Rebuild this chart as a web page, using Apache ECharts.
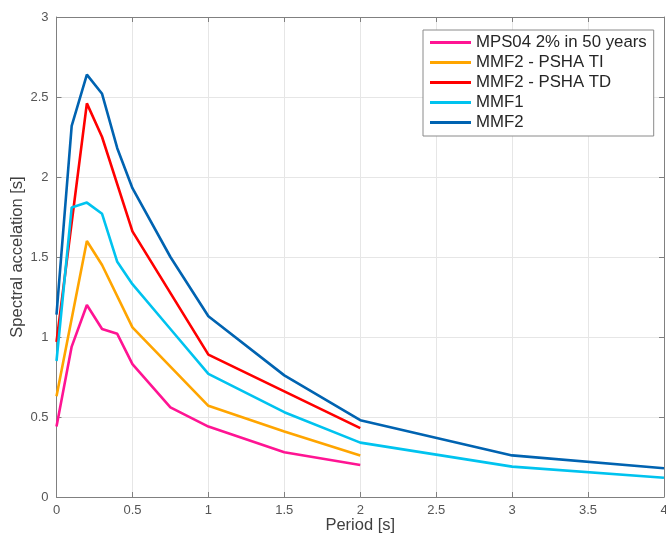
<!DOCTYPE html>
<html><head><meta charset="utf-8">
<script src="https://cdn.jsdelivr.net/npm/echarts@6/dist/echarts.min.js"></script>
<style>html,body{margin:0;padding:0;background:#fff}#c{width:666px;height:541px}</style>
</head><body><div id="c"></div>
<script>
const seriesNames = ['MPS04 2% in 50 years','MMF2 - PSHA TI','MMF2 - PSHA TD','MMF1','MMF2'];
const mps04X = [0,0.1,0.2,0.3,0.4,0.5,0.75,1,1.5,2];
const mps04Y = [0.44,0.94,1.20,1.05,1.02,0.83,0.56,0.44,0.28,0.20];
const psha_tiX = [0,0.2,0.3,0.5,1,1.5,2];
const psha_tiY = [0.63,1.60,1.45,1.06,0.57,0.41,0.26];
const psha_tdX = [0,0.2,0.3,0.5,1,1.5,2];
const psha_tdY = [0.97,2.46,2.25,1.66,0.89,0.66,0.43];
const mmf1X = [0,0.1,0.2,0.3,0.4,0.5,0.75,1,1.5,2,3,4];
const mmf1Y = [0.85,1.81,1.84,1.77,1.47,1.33,1.05,0.77,0.53,0.34,0.19,0.12];
const mmf2X = [0,0.1,0.2,0.3,0.4,0.5,0.75,1,1.5,2,3,4];
const mmf2Y = [1.14,2.32,2.64,2.52,2.18,1.93,1.50,1.13,0.76,0.48,0.26,0.18];
const colors = ['#ff1493','#ffa500','#ff0000','#00c3ef','#0063b1'];

const xs = [mps04X, psha_tiX, psha_tdX, mmf1X, mmf2X];
const ys = [mps04Y, psha_tiY, psha_tdY, mmf1Y, mmf2Y];
const font = 'Liberation Sans, Arial, sans-serif';
const axisLineColor = '#808080';
const series = seriesNames.map((n,i)=>({
  name: n, type: 'line', showSymbol: false, symbol: 'none',
  data: xs[i].map((x,k)=>[x, ys[i][k]]),
  lineStyle: {color: colors[i], width: 2.6}, itemStyle: {color: colors[i]},
  z: 2 + i
}));
const chart = echarts.init(document.getElementById('c'), null, {renderer:'canvas'});
chart.setOption({
  animation: false,
  backgroundColor: '#fff',
  grid: {left: 56.5, right: 2, top: 17, bottom: 44, show: false, containLabel: false, outerBoundsMode: 'none'},
  legend: {
    data: seriesNames, orient: 'vertical', left: 423, top: 30,
    backgroundColor: '#fff', borderColor: '#8a8a8a', borderWidth: 1,
    padding: [4, 7, 5, 7], itemGap: 3, itemWidth: 41, itemHeight: 3,
    icon: 'rect',
    textStyle: {fontFamily: font, fontSize: 16.8, color: '#262626', lineHeight: 17, padding: [0,0,0,0]},
  },
  xAxis: [{
    type: 'value', min: 0, max: 4, interval: 0.5,
    name: 'Period [s]', nameLocation: 'middle', nameGap: 20, nameMoveOverlap: false,
    nameTextStyle: {fontFamily: font, fontSize: 16.5, color: '#404040'},
    axisLine: {show: true, onZero: false, lineStyle: {color: axisLineColor}},
    axisTick: {show: true, inside: true, length: 5, lineStyle: {color: axisLineColor}},
    axisLabel: {fontFamily: font, fontSize: 13, color: '#555', margin: 7},
    splitLine: {show: true, lineStyle: {color: '#e6e6e6', width: 1}}
  },{
    type: 'value', min: 0, max: 4, interval: 0.5, position: 'top',
    axisLine: {show: true, onZero: false, lineStyle: {color: axisLineColor}},
    axisTick: {show: true, inside: true, length: 5, lineStyle: {color: axisLineColor}},
    axisLabel: {show: false}, splitLine: {show: false}
  }],
  yAxis: [{
    type: 'value', min: 0, max: 3, interval: 0.5,
    name: 'Spectral accelation [s]', nameLocation: 'middle', nameGap: 31, nameMoveOverlap: false,
    nameTextStyle: {fontFamily: font, fontSize: 16.5, color: '#404040'},
    axisLine: {show: true, onZero: false, lineStyle: {color: axisLineColor}},
    axisTick: {show: true, inside: true, length: 5, lineStyle: {color: axisLineColor}},
    axisLabel: {fontFamily: font, fontSize: 13, color: '#555', margin: 8},
    splitLine: {show: true, lineStyle: {color: '#e6e6e6', width: 1}}
  },{
    type: 'value', min: 0, max: 3, interval: 0.5, position: 'right',
    axisLine: {show: true, onZero: false, lineStyle: {color: axisLineColor}},
    axisTick: {show: true, inside: true, length: 5, lineStyle: {color: axisLineColor}},
    axisLabel: {show: false}, splitLine: {show: false}
  }],
  series: series
});
</script></body></html>
